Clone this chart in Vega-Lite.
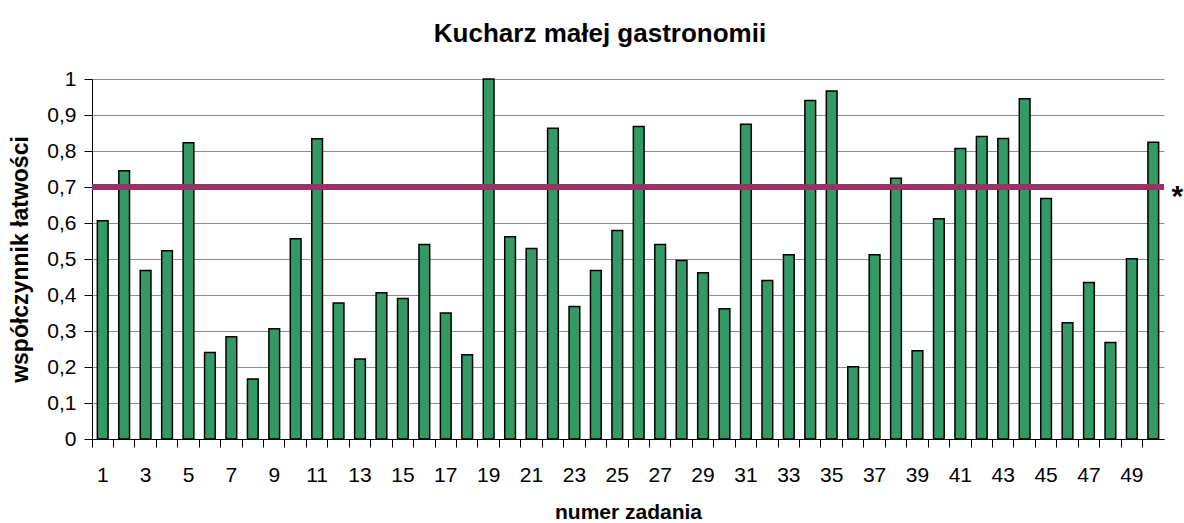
{
  "$schema": "https://vega.github.io/schema/vega-lite/v6.json",
  "width": 1072,
  "height": 360,
  "autosize": {"type": "none"},
  "padding": {"left": 92, "top": 79, "right": 20, "bottom": 84},
  "background": "white",
  "config": {
    "font": "Liberation Sans",
    "view": {"stroke": null},
    "axis": {"labelFont": "Liberation Sans", "titleFont": "Liberation Sans", "labelColor": "black", "titleColor": "black"}
  },
  "title": {
    "text": "Kucharz małej gastronomii",
    "font": "Liberation Sans",
    "fontSize": 26,
    "fontWeight": "bold",
    "color": "black",
    "anchor": "middle",
    "offset": 21,
    "dx": -28
  },
  "data": {
    "values": [
      {"nr": 1, "wsp": 0.606}, {"nr": 2, "wsp": 0.745}, {"nr": 3, "wsp": 0.468}, {"nr": 4, "wsp": 0.523},
      {"nr": 5, "wsp": 0.823}, {"nr": 6, "wsp": 0.240}, {"nr": 7, "wsp": 0.284}, {"nr": 8, "wsp": 0.167},
      {"nr": 9, "wsp": 0.306}, {"nr": 10, "wsp": 0.556}, {"nr": 11, "wsp": 0.834}, {"nr": 12, "wsp": 0.378},
      {"nr": 13, "wsp": 0.222}, {"nr": 14, "wsp": 0.406}, {"nr": 15, "wsp": 0.390}, {"nr": 16, "wsp": 0.540},
      {"nr": 17, "wsp": 0.350}, {"nr": 18, "wsp": 0.234}, {"nr": 19, "wsp": 1.0}, {"nr": 20, "wsp": 0.562},
      {"nr": 21, "wsp": 0.529}, {"nr": 22, "wsp": 0.863}, {"nr": 23, "wsp": 0.368}, {"nr": 24, "wsp": 0.468},
      {"nr": 25, "wsp": 0.579}, {"nr": 26, "wsp": 0.868}, {"nr": 27, "wsp": 0.540}, {"nr": 28, "wsp": 0.496},
      {"nr": 29, "wsp": 0.462}, {"nr": 30, "wsp": 0.362}, {"nr": 31, "wsp": 0.874}, {"nr": 32, "wsp": 0.440},
      {"nr": 33, "wsp": 0.512}, {"nr": 34, "wsp": 0.940}, {"nr": 35, "wsp": 0.967}, {"nr": 36, "wsp": 0.201},
      {"nr": 37, "wsp": 0.512}, {"nr": 38, "wsp": 0.724}, {"nr": 39, "wsp": 0.245}, {"nr": 40, "wsp": 0.612},
      {"nr": 41, "wsp": 0.807}, {"nr": 42, "wsp": 0.840}, {"nr": 43, "wsp": 0.835}, {"nr": 44, "wsp": 0.945},
      {"nr": 45, "wsp": 0.668}, {"nr": 46, "wsp": 0.323}, {"nr": 47, "wsp": 0.435}, {"nr": 48, "wsp": 0.268},
      {"nr": 49, "wsp": 0.501}, {"nr": 50, "wsp": 0.824}
    ]
  },
  "layer": [
    {
      "mark": {"type": "bar", "fill": "#339966", "stroke": "black", "strokeWidth": 1.5},
      "encoding": {
        "x": {
          "field": "nr",
          "type": "ordinal",
          "sort": "ascending",
          "scale": {"paddingInner": 0.5, "paddingOuter": 0.25},
          "axis": {
            "title": "numer zadania",
            "titleFontSize": 21,
            "titleFontWeight": "bold",
            "titlePadding": 16,
            "labelAngle": 0,
            "labelFontSize": 21,
            "labelPadding": 17,
            "labelOverlap": false,
            "labelExpr": "datum.value % 2 == 1 ? datum.label : ''",
            "bandPosition": -0.5,
            "labelOffset": 0,
            "tickSize": 8,
            "tickColor": "black",
            "domainColor": "black",
            "grid": false
          }
        },
        "y": {
          "field": "wsp",
          "type": "quantitative",
          "scale": {"domain": [0, 1], "nice": false},
          "axis": {
            "title": "współczynnik łatwości",
            "titleFontSize": 23,
            "titleFontWeight": "bold",
            "titlePadding": 14,
            "values": [0, 0.1, 0.2, 0.3, 0.4, 0.5, 0.6, 0.7, 0.8, 0.9, 1],
            "labelExpr": "replace(format(datum.value, '.1~f'), '.', ',')",
            "labelOverlap": false,
            "labelFontSize": 21,
            "labelPadding": 8,
            "tickSize": 8,
            "tickColor": "black",
            "domainColor": "black",
            "grid": true,
            "gridColor": "#8c8c8c",
            "gridWidth": 1
          }
        }
      }
    },
    {
      "mark": {"type": "rule", "color": "#993366", "strokeWidth": 6},
      "encoding": {
        "y": {
          "datum": 0.7,
          "type": "quantitative",
          "scale": {"domain": [0, 1], "nice": false},
          "axis": {
            "title": "współczynnik łatwości",
            "titleFontSize": 23,
            "titleFontWeight": "bold",
            "titlePadding": 14,
            "values": [0, 0.1, 0.2, 0.3, 0.4, 0.5, 0.6, 0.7, 0.8, 0.9, 1],
            "labelExpr": "replace(format(datum.value, '.1~f'), '.', ',')",
            "labelOverlap": false,
            "labelFontSize": 21,
            "labelPadding": 8,
            "tickSize": 8,
            "tickColor": "black",
            "domainColor": "black",
            "grid": true,
            "gridColor": "#8c8c8c",
            "gridWidth": 1
          }
        }
      }
    },
    {
      "data": {"values": [{"nr": 50, "label": "*", "prog": 0.7}]},
      "mark": {"type": "text", "fontSize": 30, "fontWeight": "bold", "color": "black", "dx": 24, "dy": 10, "baseline": "middle", "align": "center"},
      "encoding": {
        "x": {
          "field": "nr",
          "type": "ordinal",
          "sort": "ascending",
          "scale": {"paddingInner": 0.5, "paddingOuter": 0.25},
          "axis": {
            "title": "numer zadania",
            "titleFontSize": 21,
            "titleFontWeight": "bold",
            "titlePadding": 16,
            "labelAngle": 0,
            "labelFontSize": 21,
            "labelPadding": 17,
            "labelOverlap": false,
            "labelExpr": "datum.value % 2 == 1 ? datum.label : ''",
            "bandPosition": -0.5,
            "labelOffset": 0,
            "tickSize": 8,
            "tickColor": "black",
            "domainColor": "black",
            "grid": false
          }
        },
        "y": {
          "field": "prog",
          "type": "quantitative",
          "scale": {"domain": [0, 1], "nice": false},
          "axis": {
            "title": "współczynnik łatwości",
            "titleFontSize": 23,
            "titleFontWeight": "bold",
            "titlePadding": 14,
            "values": [0, 0.1, 0.2, 0.3, 0.4, 0.5, 0.6, 0.7, 0.8, 0.9, 1],
            "labelExpr": "replace(format(datum.value, '.1~f'), '.', ',')",
            "labelOverlap": false,
            "labelFontSize": 21,
            "labelPadding": 8,
            "tickSize": 8,
            "tickColor": "black",
            "domainColor": "black",
            "grid": true,
            "gridColor": "#8c8c8c",
            "gridWidth": 1
          }
        },
        "text": {"field": "label"}
      }
    }
  ]
}
